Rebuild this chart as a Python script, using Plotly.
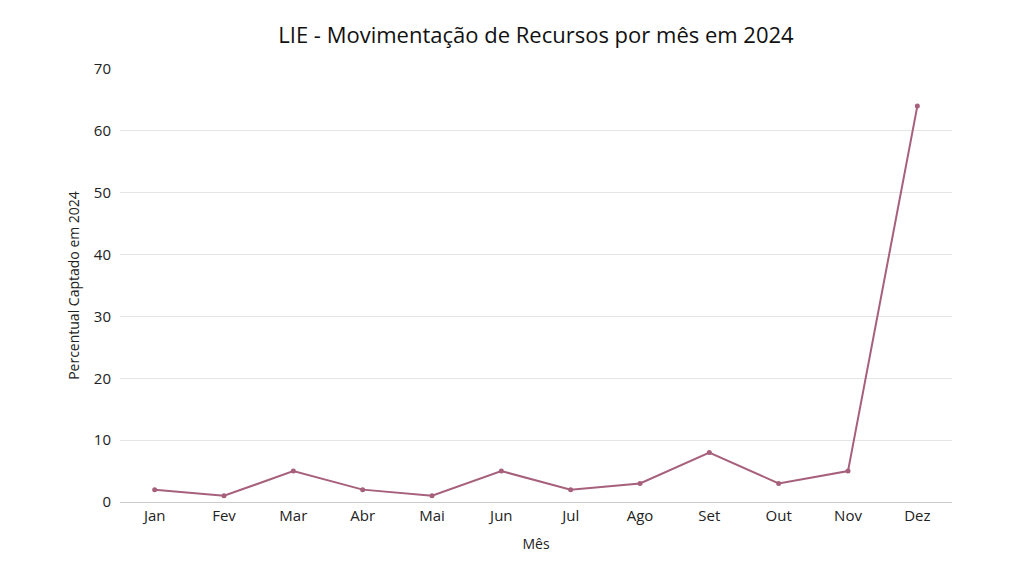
import plotly.graph_objects as go

meses = ["Jan", "Fev", "Mar", "Abr", "Mai", "Jun", "Jul", "Ago", "Set", "Out", "Nov", "Dez"]
percentual = [2, 1, 5, 2, 1, 5, 2, 3, 8, 3, 5, 64]

fig = go.Figure()
fig.add_trace(go.Scatter(
    x=meses, y=percentual, mode="lines+markers",
    line=dict(color="#a6607b", width=2),
    marker=dict(color="#a6607b", size=5),
))
fig.update_layout(
    width=1024, height=576,
    title=dict(text="LIE - Movimentação de Recursos por mês em 2024", x=0.5, xref="paper",
               xanchor="center", y=1 - 27 / 576, yref="container", yanchor="middle",
               font=dict(size=22, color="#111")),
    font=dict(family="Open Sans", size=14, color="#222"),
    plot_bgcolor="white", paper_bgcolor="white",
    margin=dict(l=112, r=80, t=61, b=82, autoexpand=False),
    showlegend=False,
    xaxis=dict(title=dict(text="Mês", standoff=15, font=dict(size=14)), showgrid=False,
               showline=True, linecolor="#cccccc", linewidth=1, ticks="",
               tickfont=dict(size=15), range=[-0.5, len(meses) - 0.5]),
    yaxis=dict(title=dict(text="Percentual Captado em 2024", standoff=10, font=dict(size=14)),
               range=[0, 70], dtick=10, showgrid=True, gridcolor="#e5e5e5", zeroline=False,
               ticks="", ticklabelstandoff=8, tickfont=dict(size=15)),
)
fig.write_html("out.html")
